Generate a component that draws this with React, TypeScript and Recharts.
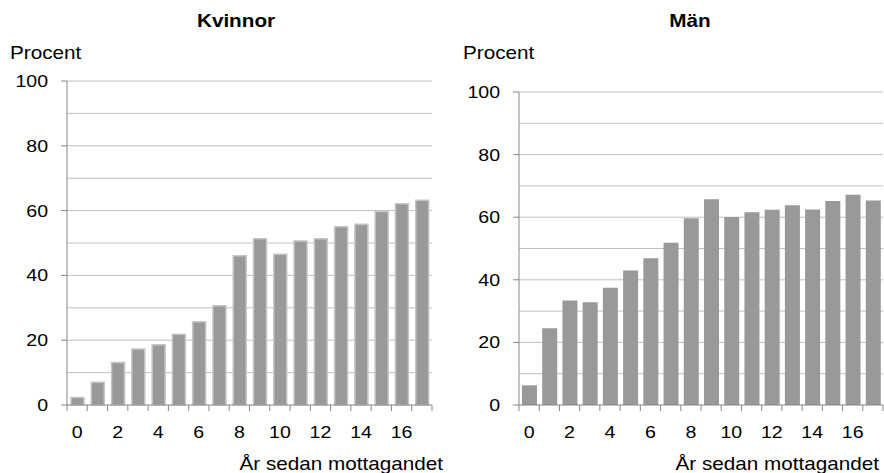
import { BarChart, Bar, XAxis, YAxis, CartesianGrid } from 'recharts'

// år sedan mottagandet
const years = [0, 1, 2, 3, 4, 5, 6, 7, 8, 9, 10, 11, 12, 13, 14, 15, 16, 17]
// andel i procent, avläst
const kvinnor = [2.3, 7.0, 13.1, 17.3, 18.6, 21.8, 25.7, 30.6, 46.1, 51.3, 46.5, 50.6, 51.3, 55.0, 55.8, 59.7, 62.1, 63.2]
const man = [6.3, 24.5, 33.4, 32.8, 37.5, 43.0, 46.9, 51.8, 59.7, 65.7, 60.1, 61.6, 62.4, 63.8, 62.5, 65.2, 67.2, 65.3]
const yTicks = [0, 20, 40, 60, 80, 100]
const gridValues = [10, 20, 30, 40, 50, 60, 70, 80, 90, 100]

const FONT = '"Liberation Sans", Arial, sans-serif'
const AXIS = '#878787'
const GRID = '#c0c0c0'
const BAR = '#999999'
const SX = 1.15

function SText({ x, y, anchor = 'start', size = 17, bold = false, children }: any) {
  return (
    <text
      transform={`translate(${x},${y}) scale(${SX},1)`}
      textAnchor={anchor}
      fontSize={size}
      fontWeight={bold ? 'bold' : 'normal'}
      fontFamily={FONT}
      fill="#000"
    >
      {children}
    </text>
  )
}

const XTick = ({ x, y, payload, index, band }: any) => {
  const left = x - band / 2
  return (
    <g>
      <line x1={left} x2={left} y1={y} y2={y + 6} stroke={AXIS} />
      {index === years.length - 1 && (
        <line x1={x + band / 2} x2={x + band / 2} y1={y} y2={y + 6} stroke={AXIS} />
      )}
      {payload.value % 2 === 0 && (
        <SText x={x} y={y + 33} anchor="middle">{payload.value}</SText>
      )}
    </g>
  )
}

const YTick = ({ x, y, payload }: any) => (
  <g>
    <line x1={x - 6} x2={x} y1={y} y2={y} stroke={AXIS} />
    <SText x={x - 19} y={y + 6} anchor="end">{payload.value}</SText>
  </g>
)

interface PanelProps {
  values: number[]
  left: number
  width: number
  axisW: number
  top: number
  right: number
  barSize: number
  outline?: boolean
}

function Panel({ values, left, width, axisW, top, right, barSize, outline }: PanelProps) {
  const data = years.map((y, i) => ({ year: y, value: values[i] }))
  const plotW = width - axisW - right
  return (
    <div style={{ position: 'absolute', left, top: 0 }}>
      <BarChart width={width} height={473} data={data} margin={{ top, right, bottom: 0, left: 0 }}>
        <CartesianGrid vertical={false} stroke={GRID} horizontalValues={gridValues} />
        <XAxis
          dataKey="year"
          height={68}
          interval={0}
          tickLine={false}
          tickSize={0}
          tickMargin={0}
          axisLine={{ stroke: AXIS }}
          tick={(p: any) => <XTick {...p} band={plotW / years.length} />}
        />
        <YAxis
          width={axisW}
          domain={[0, 100]}
          ticks={yTicks}
          interval={0}
          tickLine={false}
          tickSize={0}
          tickMargin={0}
          axisLine={{ stroke: AXIS }}
          tick={YTick}
        />
        <Bar
          dataKey="value"
          fill={BAR}
          stroke={outline ? '#c6c6c6' : 'none'}
          strokeWidth={outline ? 1.5 : 0}
          barSize={barSize}
          isAnimationActive={false}
        />
      </BarChart>
    </div>
  )
}

export default function App() {
  return (
    <div style={{ position: 'absolute', left: 0, top: 0, width: 884, height: 473, background: '#fff', overflow: 'hidden' }}>
      <Panel values={kvinnor} left={0} width={450} axisW={67} top={81} right={18} barSize={13} outline />
      <Panel values={man} left={444} width={440} axisW={75} top={92} right={1} barSize={15} />
      <svg width={884} height={473} style={{ position: 'absolute', left: 0, top: 0, pointerEvents: 'none' }}>
        <SText x={236} y={27} anchor="middle" size={18} bold>Kvinnor</SText>
        <SText x={690} y={27} anchor="middle" size={18} bold>Män</SText>
        <SText x={10} y={59} size={18}>Procent</SText>
        <SText x={463} y={59} size={18}>Procent</SText>
        <SText x={443} y={470} anchor="end" size={18}>År sedan mottagandet</SText>
        <SText x={879} y={470} anchor="end" size={18}>År sedan mottagandet</SText>
      </svg>
    </div>
  )
}
